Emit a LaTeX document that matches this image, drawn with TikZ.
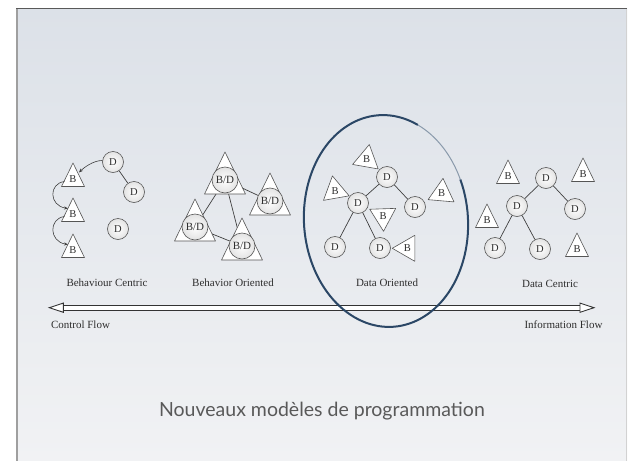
\documentclass[tikz,border=0pt]{standalone}
\usepackage{fontspec}
\setmainfont{Liberation Serif}
\newfontfamily\titlefont{Lato}
\usetikzlibrary{arrows.meta,calc}
\pgfdeclarelayer{back}
\pgfdeclarelayer{edges}
\pgfsetlayers{back,edges,main}
\definecolor{slidetop}{HTML}{DCE1E8}
\definecolor{slidebot}{HTML}{F1F2F4}
\definecolor{ringblue}{HTML}{2B4766}
\definecolor{ink}{HTML}{2E2E2E}
\definecolor{shapeline}{HTML}{555555}
\newcommand\TallB[3]{%
  \begin{scope}[shift={(#2,#3)}]
    \draw[tri] (0,-15) -- (11.5,8.5) -- (-11.5,8.5) -- cycle;
  \end{scope}
  \node[btext,yshift=-1.5pt] (#1) at (#2,#3) {B};}
\newcommand\RotB[4]{%
  \begin{scope}[shift={(#2,#3)}, rotate={(#4)-90}]
    \draw[tri] (0,-15) -- (13,7.5) -- (-13,7.5) -- cycle;
  \end{scope}
  \node[btext] (#1) at (#2,#3) {B};}
\newcommand\BDtri[3]{%
  \begin{scope}[shift={(#2,#3)}]
    \draw[tri] (0,-28) -- (20.5,14) -- (-20.5,14) -- cycle;
  \end{scope}
  \node[bdnode] (#1) at (#2,#3) {B/D};}
\begin{document}
\begin{tikzpicture}[x=1pt,y=-1pt,
  dnode/.style={circle, draw=shapeline, line width=0.6pt, inner color=white, outer color=gray!22,
    minimum size=21pt, inner sep=0pt, text=ink, font=\fontsize{10.5}{12}\selectfont},
  bdnode/.style={circle, draw=shapeline, line width=0.6pt, inner color=white, outer color=gray!22,
    minimum size=26pt, inner sep=0pt, text=ink, font=\fontsize{11}{12}\selectfont},
  btext/.style={inner sep=0pt, text=ink, font=\fontsize{10.5}{12}\selectfont},
  tri/.style={draw=shapeline, line width=0.6pt, fill=white, line join=round},
  link/.style={draw=black!75, line width=0.7pt},
  flow/.style={-{Stealth[length=4pt,width=3.2pt]}, draw=black!75, line width=0.6pt},
  lbl/.style={inner sep=0pt, text=ink, font=\fontsize{11}{13}\selectfont},
  ttl/.style={inner sep=0pt, text=black!65, font=\titlefont\fontsize{19.5}{24}\selectfont},
  ring/.style={draw=ringblue, line width=2pt},
  axis/.style={draw=black!80, line width=0.9pt}]
\useasboundingbox (0,0) rectangle (638,461);
\begin{pgfonlayer}{back}
  \fill[white] (0,0) rectangle (638,461);
  \shade[top color=slidetop, bottom color=slidebot] (16,8) rectangle (627,461);
  \draw[gray!75, line width=2pt] (17,461) -- (17,9);
  \draw[black!65, line width=1.2pt] (16,8.6) -- (627,8.6);
  \draw[gray!35, line width=0.6pt] (626.7,9) -- (626.7,461);
\end{pgfonlayer}

% Behaviour Centric
\node[dnode] (bcd1) at (113,162) {D};
\node[dnode] (bcd2) at (134,192) {D};
\node[dnode] (bcd3) at (118,229) {D};
\TallB{bcb1}{73}{178}
\TallB{bcb2}{73}{213}
\TallB{bcb3}{73}{249}
\begin{pgfonlayer}{edges}
  \draw[link] (bcd1) -- (bcd2);
\end{pgfonlayer}
\draw[flow] (bcd1.172) .. controls +(-9,0) and +(5,-5) .. ($(bcb1)+(6,-7)$);
\draw[flow] ($(bcb1)+(-8.5,2)$) .. controls +(-16,2) and +(-19,-3) .. ($(bcb2)+(-5,-6)$);
\draw[flow] ($(bcb2)+(-8.5,2)$) .. controls +(-16,2) and +(-19,-3) .. ($(bcb3)+(-5,-6)$);
\node[lbl] (lbc) at (107,283) {Behaviour Centric};

% Behavior Oriented
\BDtri{bo1}{225}{180}
\BDtri{bo2}{270}{201}
\BDtri{bo3}{195}{227}
\BDtri{bo4}{242}{246}
\begin{pgfonlayer}{edges}
  \draw[link] (bo1) -- (bo2);
  \draw[link] (bo1) -- (bo3);
  \draw[link] (bo1) -- (bo4);
  \draw[link] (bo3) -- (bo4);
\end{pgfonlayer}
\node[lbl] (lbo) at (233,283) {Behavior Oriented};

% Data Oriented
\node[dnode] (dod1) at (387,177) {D};
\node[dnode] (dod2) at (358,203) {D};
\node[dnode] (dod3) at (415,207) {D};
\node[dnode] (dod4) at (335,247) {D};
\node[dnode] (dod5) at (380,248) {D};
\RotB{dob1}{366.7}{159.3}{-40}
\RotB{dob2}{335}{190.7}{100}
\RotB{dob3}{383}{216.3}{-88}
\RotB{dob4}{441.7}{193.3}{205}
\RotB{dob5}{407.3}{248.3}{180}
\begin{pgfonlayer}{edges}
  \draw[link] (dod1) -- (dod2);
  \draw[link] (dod1) -- (dod3);
  \draw[link] (dod2) -- (dod4);
  \draw[link] (dod2) -- (dod5);
\end{pgfonlayer}
\node[lbl] (ldo) at (387,283) {Data Oriented};

% Data Centric
\node[dnode] (dcd1) at (546,178) {D};
\node[dnode] (dcd2) at (517,206) {D};
\node[dnode] (dcd3) at (575,209) {D};
\node[dnode] (dcd4) at (495,248) {D};
\node[dnode] (dcd5) at (540,249) {D};
\TallB{dcb1}{508}{175}
\TallB{dcb2}{583}{173}
\TallB{dcb3}{487}{219}
\TallB{dcb4}{577}{248}
\begin{pgfonlayer}{edges}
  \draw[link] (dcd1) -- (dcd2);
  \draw[link] (dcd1) -- (dcd3);
  \draw[link] (dcd2) -- (dcd4);
  \draw[link] (dcd2) -- (dcd5);
\end{pgfonlayer}
\node[lbl] (ldc) at (550,284) {Data Centric};

% Flow axis
\coordinate (aL) at (49.3,307.7);
\coordinate (aR) at (594,307.7);
\draw[axis, double=white, double distance=4.4pt] ($(aL)+(13,0)$) -- ($(aR)+(-13,0)$);
\draw[axis, fill=white, line join=miter] (aL) -- ($(aL)+(14,-4.6)$) -- ($(aL)+(14,4.6)$) -- cycle;
\draw[axis, fill=white, line join=miter] (aR) -- ($(aR)+(-14,-4.6)$) -- ($(aR)+(-14,4.6)$) -- cycle;
\node[lbl] (lcf) at (80.5,325) {Control Flow};
\node[lbl] (lif) at (563.5,325) {Information Flow};

% Highlight ring
\coordinate (ec) at (386,221);
\draw[ring, rotate around={4:(ec)}] ([shift={(-62:82 and 106)}]ec) arc[start angle=-62, end angle=-380, x radius=82, y radius=106];
\draw[ringblue!55, line width=1pt, rotate around={4:(ec)}] ([shift={(-20:82 and 106)}]ec) arc[start angle=-20, end angle=-62, x radius=82, y radius=106];

% Title
\node[ttl, anchor=base east] (title) at (485,416) {Nouveaux modèles de programmation};
\end{tikzpicture}
\end{document}
